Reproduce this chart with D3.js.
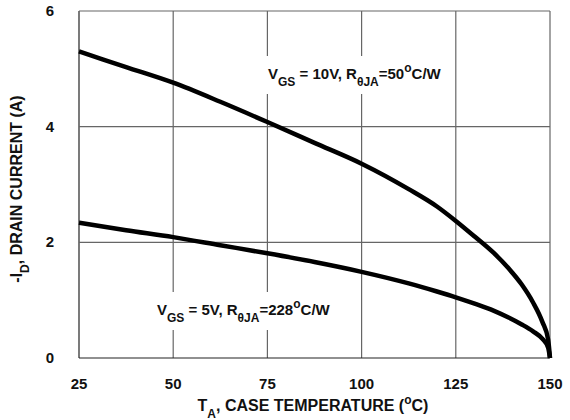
<!DOCTYPE html>
<html>
<head>
<meta charset="utf-8">
<script src="https://cdn.jsdelivr.net/npm/d3@7"></script>
<style>
  body { margin: 0; background: #fff; }
  text { font-family: "Liberation Sans", Arial, sans-serif; font-weight: bold; fill: #111; }
</style>
</head>
<body>
<svg id="chart" width="570" height="420"></svg>
<script>
// values
var temps    = [25, 37.5, 50, 62.5, 75, 87.5, 100, 112.5, 120, 125, 130, 135, 139, 142.5, 145.5, 148, 149.5, 150]
var vgs10    = [5.3, 5.03, 4.76, 4.43, 4.08, 3.72, 3.36, 2.92, 2.62, 2.37, 2.1, 1.82, 1.55, 1.27, 0.96, 0.62, 0.32, 0]
var vgs5     = [2.34, 2.21, 2.09, 1.95, 1.81, 1.66, 1.49, 1.29, 1.15, 1.05, 0.94, 0.82, 0.70, 0.58, 0.46, 0.33, 0.18, 0]
var xTicks   = [25, 50, 75, 100, 125, 150]
var yTicks   = [0, 2, 4, 6]

var plotL = 79, plotR = 550, plotT = 11, plotB = 358

var svg = d3.select('#chart')

var x = d3.scaleLinear().domain([25, 150]).range([plotL, plotR])
var y = d3.scaleLinear().domain([0, 6]).range([plotB, plotT])

// grid
svg.append('g')
    .selectAll('line')
    .data(xTicks)
    .join('line')
    .attr('x1', d => x(d)).attr('x2', d => x(d))
    .attr('y1', plotT).attr('y2', plotB)
    .style('stroke', d => d == 25 ? '#222' : '#666')
    .style('stroke-width', 1.2)

svg.append('g')
    .selectAll('line')
    .data(yTicks)
    .join('line')
    .attr('x1', plotL).attr('x2', plotR)
    .attr('y1', d => y(d)).attr('y2', d => y(d))
    .style('stroke', d => d == 0 ? '#222' : '#666')
    .style('stroke-width', 1.2)

// tick labels
svg.append('g')
    .selectAll('text')
    .data(xTicks)
    .join('text')
    .text(d => d)
    .attr('x', d => x(d))
    .attr('y', 389)
    .attr('text-anchor', 'middle')
    .style('font-size', '15px')

svg.append('g')
    .selectAll('text')
    .data(yTicks)
    .join('text')
    .text(d => d)
    .attr('x', 50)
    .attr('y', d => y(d) + 5)
    .attr('text-anchor', 'middle')
    .style('font-size', '15px')

// axis titles
var xt = svg.append('text')
    .attr('x', 313)
    .attr('y', 411)
    .attr('text-anchor', 'middle')
    .style('font-size', '16px')
xt.append('tspan').text('T')
xt.append('tspan').text('A').attr('baseline-shift', 'sub').style('font-size', '12px')
xt.append('tspan').text(', CASE TEMPERATURE (')
xt.append('tspan').text('o').attr('baseline-shift', 'super').style('font-size', '12px')
xt.append('tspan').text('C)')

var yt = svg.append('text')
    .attr('transform', 'translate(22,189) rotate(-90)')
    .attr('text-anchor', 'middle')
    .style('font-size', '16px')
yt.append('tspan').text('-I')
yt.append('tspan').text('D').attr('baseline-shift', 'sub').style('font-size', '12px')
yt.append('tspan').text(', DRAIN CURRENT (A)')

// curves
var line = d3.line()
    .x((d, i) => x(temps[i]))
    .y(d => y(d))
    .curve(d3.curveMonotoneX)

svg.append('path')
    .attr('d', line(vgs10))
    .style('fill', 'none')
    .style('stroke', '#000')
    .style('stroke-width', 4.5)

svg.append('path')
    .attr('d', line(vgs5))
    .style('fill', 'none')
    .style('stroke', '#000')
    .style('stroke-width', 4.5)

// annotations with white boxes breaking the grid
function label(px, py, parts) {
    var g = svg.append('g')
    var bg = g.append('rect').style('fill', '#fff')
    var t = g.append('text').attr('x', px).attr('y', py).style('font-size', '15px')
    parts.forEach(function(p) {
        var s = t.append('tspan').text(p[0])
        if (p[1] == 'sub') s.attr('baseline-shift', 'sub').style('font-size', '12px')
        if (p[1] == 'sup') s.attr('baseline-shift', 'super').style('font-size', '12px')
    })
    var b = t.node().getBBox()
    bg.attr('x', b.x - 3).attr('y', b.y - 5).attr('width', b.width + 6).attr('height', b.height + 10)
}

label(268, 79, [['V'], ['GS', 'sub'], [' = 10V, R'], ['\u03b8JA', 'sub'], ['=50'], ['o', 'sup'], ['C/W']])
label(157, 315, [['V'], ['GS', 'sub'], [' = 5V, R'], ['\u03b8JA', 'sub'], ['=228'], ['o', 'sup'], ['C/W']])
</script>
</body>
</html>
